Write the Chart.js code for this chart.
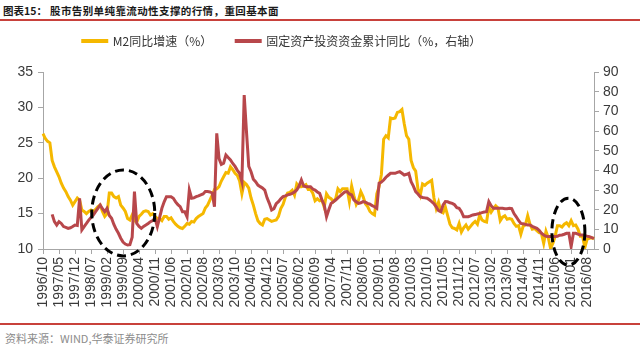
<!DOCTYPE html>
<html>
<head>
<meta charset="utf-8">
<script src="https://cdn.jsdelivr.net/npm/chart.js@4.4.0/dist/chart.umd.min.js"></script>
<style>
  body { margin: 0; width: 640px; height: 349px; background: #fff; position: relative; overflow: hidden; font-family: "Noto Sans CJK SC", sans-serif; }
  #title { position: absolute; left: 3px; top: 4px; line-height: 14px; font-size: 10.5px; font-weight: bold; color: #1a1a1a; white-space: nowrap; }
  #title .no { display: inline-block; width: 47px; }
  #title .txt { letter-spacing: 0.4px; }
  .rule { position: absolute; left: 0; width: 640px; height: 2px; background: #c8413b; }
  #wrap { position: absolute; left: 0; top: 11px; width: 640px; height: 311px; }
  #src { position: absolute; left: 5px; top: 332px; line-height: 13px; font-size: 11px; color: #8c8c8c; white-space: nowrap; }
</style>
</head>
<body>
<div id="title"><span class="no">图表15：</span><span class="txt">股市告别单纯靠流动性支撑的行情，重回基本面</span></div>
<div class="rule" style="top:19px"></div>
<div id="wrap"><canvas id="chart"></canvas></div>
<div class="rule" style="top:323px"></div>
<div id="src">资料来源：WIND,华泰证券研究所</div>
<script>
// M2 同比增速 (%), monthly from 1996/10
const m2 = [
  26.3, 25.6, 25.2,
  25.0, 22.5, 21.6, 20.9, 20.2, 19.3, 18.6, 18.1, 17.4, 16.9, 16.2, 16.7,
  17.2, 16.9, 15.5, 15.3, 15.0, 15.3, 15.5, 15.3, 15.6, 16.0, 16.2, 15.3,
  14.6, 15.0, 17.9, 17.9, 17.4, 17.2, 17.4, 16.2, 15.8, 15.3, 14.3, 14.1,
  14.8, 14.0, 13.8, 14.6, 14.9, 15.3, 15.4, 15.3, 14.8, 15.0, 14.6, 14.3,
  14.3, 14.0, 14.6, 14.6, 14.2, 14.4, 13.9, 13.5, 13.2, 13.0, 12.9, 13.2,
  13.6, 13.5, 13.9, 13.8, 14.3, 14.6, 14.8, 15.0, 15.8, 16.2, 16.9, 17.6,
  18.4, 18.5, 18.8, 19.6, 20.2, 20.8, 20.7, 21.6, 21.2, 20.7, 20.4, 19.6,
  17.8, 19.4, 19.1, 18.6, 17.2, 16.2, 15.0, 14.0, 13.6, 13.4, 14.2, 14.3,
  14.1, 13.9, 14.0, 14.1, 14.6, 15.7, 16.3, 17.3, 17.9, 18.0, 18.3, 17.6,
  19.2, 18.8, 18.8, 18.9, 19.1, 18.4, 18.4, 17.9, 16.8, 17.1, 16.8, 16.9,
  15.9, 17.8, 17.3, 17.1, 16.7, 17.1, 18.5, 18.1, 18.5, 18.5, 18.5, 16.7,
  18.9, 17.5, 16.3, 16.9, 18.1, 17.4, 16.4, 16.0, 15.3, 15.0, 14.8, 17.8,
  18.8, 20.5, 25.5, 26.0, 25.7, 28.5, 28.4, 28.5, 29.3, 29.4, 29.7, 27.7,
  26.0, 25.5, 22.5, 21.5, 21.0, 18.5, 17.6, 19.2, 19.0, 19.3, 19.5, 19.7,
  17.2, 15.7, 16.6, 15.3, 15.1, 15.9, 14.7, 13.5, 13.0, 12.9, 12.7, 13.6,
  12.4, 13.0, 13.4, 12.8, 13.2, 13.6, 13.9, 13.5, 14.8, 14.1, 13.9, 13.8,
  15.9, 15.2, 15.7, 16.1, 15.8, 14.0, 14.5, 14.7, 14.2, 14.3, 14.2, 13.6,
  13.2, 13.3, 12.1, 13.2, 13.4, 14.7, 13.5, 12.8, 12.9, 12.6, 12.3, 12.2,
  10.8, 12.5, 11.6, 10.1, 10.8, 11.8, 13.3, 13.3, 13.1, 13.5, 13.7, 13.3,
  14.0, 13.3, 13.4, 12.8, 11.8, 11.8, 10.2, 11.4, 11.5, 11.6, 11.4
];

// 固定资产投资资金累计同比 (%), right axis, same months
const fai = [
  null, null, null,
  null, 17.6, 13.9, 12.2, 13.9, 13.0, 11.4, 11.0, 10.5, 10.8, 11.4, 12.2,
  12.0, 25.8, 9.7, 11.4, 13.0, 14.7, 16.0, 17.3, 19.0, 20.7, 22.4, 20.5,
  19.0, 20.7, 17.0, 15.6, 12.5, 10.0, 8.0, 5.5, 3.5, 2.5, 2.0, 2.2,
  6.0, 29.2, 13.0, 11.5, 10.5, 11.5, 12.2, 13.0, 13.9, 14.5, 15.6, 11.4,
  16.0, 20.7, 24.0, 26.6, 26.6, 26.6, 25.8, 24.0, 22.5, 21.5, 19.0, 19.0,
  16.4, 30.0, 25.8, 26.0, 26.6, 27.0, 27.5, 28.0, 29.2, 29.2, 29.0, 28.5,
  21.5, 58.8, 46.0, 43.0, 43.6, 47.8, 46.5, 45.3, 43.5, 42.0, 40.0, 38.5,
  34.2, 78.3, 59.7, 42.0, 39.3, 35.5, 34.2, 32.5, 31.7, 31.0, 30.0, 26.0,
  23.2, 19.8, 20.5, 23.0, 24.1, 25.5, 26.6, 27.0, 27.5, 27.8, 28.3, 29.0,
  30.0, 32.0, 35.1, 32.0, 31.7, 31.7, 31.7, 30.5, 30.0, 29.0, 28.3, 25.0,
  22.4, 16.4, 20.0, 23.2, 24.0, 24.9, 26.0, 27.0, 28.0, 29.0, 29.2, 28.0,
  27.5, 24.9, 24.0, 23.2, 23.5, 24.1, 23.8, 23.2, 22.8, 22.0, 21.5, 20.7,
  33.4, 34.0, 35.1, 36.5, 37.5, 38.5, 38.5, 38.5, 39.0, 39.3, 38.5, 37.6,
  38.0, 38.5, 34.2, 32.0, 29.2, 28.0, 26.6, 26.2, 26.0, 25.8, 25.0, 24.1,
  23.0, 21.5, 19.5, 19.0, 22.4, 24.1, 24.0, 23.5, 23.2, 22.5, 21.0, 20.7,
  19.0, 16.4, 16.4, 16.4, 16.8, 17.3, 17.5, 17.8, 18.1, 18.5, 18.8, 19.0,
  24.1, 22.0, 20.7, 20.7, 20.7, 20.7, 20.7, 20.5, 20.5, 20.7, 20.5, 18.0,
  16.4, 14.5, 13.0, 12.8, 12.5, 12.2, 12.2, 11.5, 11.0, 10.5, 9.5, 8.0,
  7.1, 6.5, 6.3, 6.3, 6.3, 6.3, 6.5, 7.0, 7.1, 7.5, 8.0, 8.0,
  1.2, 8.0, 8.0, 7.6, 7.1, 7.1, 6.8, 6.5, 6.3, 5.8, 5.4
];

// month labels yyyy/mm, one per data point
const months = [];
for (let y = 1996, m = 10; months.length < m2.length; ) {
  months.push(`${y}/${String(m).padStart(2, '0')}`);
  if (++m > 12) { m = 1; y++; }
}

const axisGrey = '#a6a6a6';
const tickText = '#3a3a3a';

// dashed rings around the two periods discussed
const rings = {
  id: 'rings',
  afterDatasetsDraw(chart) {
    const { ctx, scales } = chart;
    const spots = [
      { at: 35.1, val: 15.1, rx: 31.5, ry: 43 },
      { at: 229.8, val: 12.45, rx: 16.5, ry: 33.5 }
    ];
    ctx.save();
    ctx.strokeStyle = '#000';
    ctx.lineWidth = 3;
    ctx.setLineDash([9, 5]);
    spots.forEach((s) => {
      ctx.beginPath();
      ctx.ellipse(scales.x.getPixelForValue(s.at), scales.y.getPixelForValue(s.val), s.rx, s.ry, 0, 0, Math.PI * 2);
      ctx.stroke();
    });
    ctx.restore();
  }
};

// fixed legend band height, and legend row pulled a little left of centre
const legendBox = {
  id: 'legendBox',
  beforeInit(chart) {
    const fit = chart.legend.fit;
    chart.legend.fit = function () {
      fit.bind(chart.legend)();
      this.height = 61;
    };
  },
  afterLayout(chart) {
    chart.legend.right -= 76;
  }
};

new Chart(document.getElementById('chart'), {
  type: 'line',
  data: {
    labels: months,
    datasets: [
      { label: 'M2同比增速（%）', data: m2, yAxisID: 'y', borderColor: '#f5b800', backgroundColor: '#f5b800', borderWidth: 3, pointRadius: 0, order: 1 },
      { label: '固定资产投资资金累计同比（%，右轴）', data: fai, yAxisID: 'y1', borderColor: '#b8474b', backgroundColor: '#b8474b', borderWidth: 3, pointRadius: 0, order: 0 }
    ]
  },
  options: {
    responsive: true,
    maintainAspectRatio: false,
    animation: false,
    layout: { padding: 0 },
    plugins: {
      legend: {
        labels: {
          boxWidth: 24,
          boxHeight: 1,
          padding: 24,
          color: '#333',
          font: { family: '"Noto Sans CJK SC"', size: 12 },
          sort: (a, b) => a.datasetIndex - b.datasetIndex
        }
      },
      tooltip: { enabled: false }
    },
    scales: {
      x: {
        type: 'category',
        offset: false,
        grid: { display: true, drawOnChartArea: false, tickLength: 5, color: axisGrey },
        border: { color: axisGrey },
        ticks: {
          autoSkip: false,
          maxRotation: 90,
          minRotation: 90,
          padding: 3,
          color: tickText,
          font: { family: '"Liberation Sans"', size: 14 },
          callback: (v) => months[v]
        },
        afterBuildTicks: (s) => { s.ticks = s.ticks.filter((t) => t.value % 7 === 0); },
        afterFit: (s) => { s.height = 73; }
      },
      y: {
        position: 'left',
        min: 10,
        max: 35,
        grid: { drawOnChartArea: false, tickLength: 5, color: axisGrey },
        border: { color: axisGrey },
        ticks: { stepSize: 5, autoSkip: false, padding: 5, color: tickText, font: { family: '"Liberation Sans"', size: 14 } },
        afterFit: (s) => { s.width = 43; }
      },
      y1: {
        position: 'right',
        min: 0,
        max: 90,
        grid: { drawOnChartArea: false, tickLength: 5, color: axisGrey },
        border: { color: axisGrey },
        ticks: { stepSize: 10, autoSkip: false, padding: 4, color: tickText, font: { family: '"Liberation Sans"', size: 14 } },
        afterFit: (s) => { s.width = 46; }
      }
    }
  },
  plugins: [rings, legendBox]
});
</script>
</body>
</html>
